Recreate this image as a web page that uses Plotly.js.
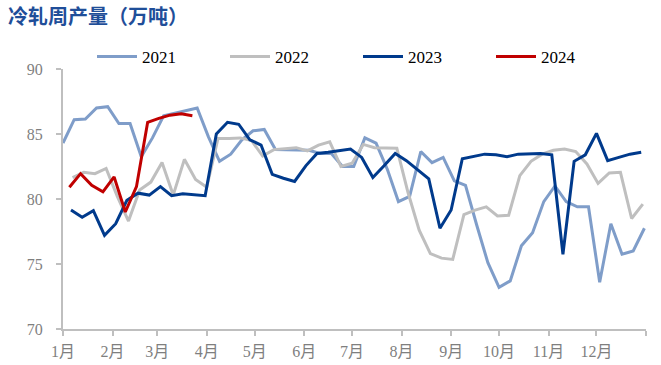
<!DOCTYPE html>
<html>
<head>
<meta charset="utf-8">
<script src="https://cdn.plot.ly/plotly-3.0.1.min.js"></script>
<style>html,body{margin:0;padding:0;background:#fff;}#chart{width:661px;height:365px;}</style>
</head>
<body>
<div id="chart"></div>
<script>
// Weekly series: first observation date of each year, then one value per week
const seriesNames = ['2021', '2022', '2023', '2024'];
const startDates = ['2021-01-01', '2022-01-07', '2023-01-06', '2024-01-05'];

const values2021 = [84.3, 86.1, 86.15, 87.0, 87.1, 85.8, 85.8, 83.25, 84.7, 86.4,
  86.6, 86.8, 87.0, 84.8, 82.9, 83.45, 84.55, 85.25, 85.35, 83.8,
  83.8, 83.8, 83.75, 83.5, 83.5, 82.5, 82.5, 84.7, 84.3, 82.3,
  79.8, 80.2, 83.65, 82.8, 83.2, 81.4, 81.05, 78.0, 75.1, 73.2,
  73.7, 76.4, 77.4, 79.8, 81.0, 79.8, 79.4, 79.4, 73.6, 78.1,
  75.75, 76.0, 77.75];
const values2022 = [81.65, 82.05, 81.95, 82.35, 80.2, 78.3, 80.7, 81.3, 82.8, 80.3,
  83.05, 81.5, 80.9, 84.65, 84.65, 84.7, 84.5, 83.3, 83.8, 83.9,
  83.95, 83.7, 84.15, 84.4, 82.5, 82.75, 84.2, 83.95, 83.9, 83.9,
  80.5, 77.6, 75.8, 75.45, 75.35, 78.8, 79.15, 79.4, 78.7, 78.75,
  81.8, 82.9, 83.45, 83.75, 83.85, 83.65, 82.7, 81.2, 82.0, 82.05,
  78.5, 79.6];
const values2023 = [79.15, 78.6, 79.1, 77.2, 78.1, 79.9, 80.45, 80.3, 80.95, 80.25,
  80.4, 80.35, 80.25, 85.0, 85.9, 85.75, 84.55, 84.15, 81.9, 81.6,
  81.35, 82.55, 83.5, 83.6, 83.7, 83.85, 83.2, 81.65, 82.55, 83.5,
  82.95, 82.25, 81.55, 77.75, 79.15, 83.1, 83.3, 83.45, 83.4, 83.25,
  83.45, 83.45, 83.5, 83.4, 75.75, 82.9, 83.4, 85.05, 82.95, 83.2,
  83.45, 83.6];
const values2024 = [80.9, 81.95, 81.05, 80.55, 81.7, 79.0, 80.95, 85.9, 86.2, 86.45,
  86.55, 86.4];

const monthTickDays = [0, 31, 59, 90, 120, 151, 181, 212, 243, 273, 304, 334, 365];
const monthTickText = ['1月', '2月', '3月', '4月', '5月', '6月', '7月', '8月', '9月', '10月', '11月', '12月', ''];
const yTicks = [70, 75, 80, 85, 90];

const colors = ['#7F9DC9', '#BFBFBF', '#003A8C', '#C00000'];
const allValues = [values2021, values2022, values2023, values2024];

function dayOfYear(dateStr) {
  const d = new Date(dateStr + 'T00:00:00Z');
  const y0 = Date.UTC(d.getUTCFullYear(), 0, 1);
  return Math.round((d.getTime() - y0) / 86400000);
}

const traces = seriesNames.map((name, i) => {
  const d0 = dayOfYear(startDates[i]);
  const vals = allValues[i];
  return {
    type: 'scatter', mode: 'lines', name: name,
    x: vals.map((_, k) => d0 + 7 * k),
    y: vals,
    line: {color: colors[i], width: 3},
    hoverinfo: 'skip'
  };
});

const serif = 'Liberation Serif, Times New Roman, Noto Sans CJK SC, serif';
const tickFont = {family: serif, size: 16, color: '#7F7F7F'};

const layout = {
  width: 661, height: 365,
  margin: {l: 63, r: 15, t: 69, b: 36},
  paper_bgcolor: '#ffffff', plot_bgcolor: '#ffffff',
  title: {
    text: '<b>冷轧周产量（万吨）</b>',
    font: {family: 'Noto Sans CJK SC, sans-serif', size: 20, color: '#1F4E99'},
    xref: 'container', yref: 'container', x: 8 / 661, xanchor: 'left', y: 1 - 17 / 365, yanchor: 'middle'
  },
  showlegend: true,
  legend: {
    orientation: 'h', xref: 'paper', x: (92 - 63) / 583, xanchor: 'left',
    yref: 'paper', y: 1 + 12 / 260, yanchor: 'middle',
    entrywidth: 78, entrywidthmode: 'pixels', itemwidth: 40, tracegroupgap: 0,
    font: {family: 'Liberation Serif, Times New Roman, serif', size: 17, color: '#000000'},
    bgcolor: 'rgba(0,0,0,0)', borderwidth: 0
  },
  xaxis: {
    range: [0, 365], tickmode: 'array', tickvals: monthTickDays, ticktext: monthTickText,
    showgrid: false, zeroline: false, showline: true, linecolor: '#BFBFBF', linewidth: 2,
    ticks: 'outside', ticklen: 5, tickcolor: '#BFBFBF', tickwidth: 2,
    tickfont: tickFont, ticklabelstandoff: 2, fixedrange: true
  },
  yaxis: {
    range: [70, 90], tickmode: 'array', tickvals: yTicks,
    showgrid: false, zeroline: false, showline: true, linecolor: '#BFBFBF', linewidth: 2,
    ticks: 'outside', ticklen: 5, tickcolor: '#BFBFBF', tickwidth: 2,
    tickfont: tickFont, ticklabelstandoff: 10, fixedrange: true
  }
};

Plotly.newPlot('chart', traces, layout, {displayModeBar: false, staticPlot: true});
</script>
</body>
</html>
